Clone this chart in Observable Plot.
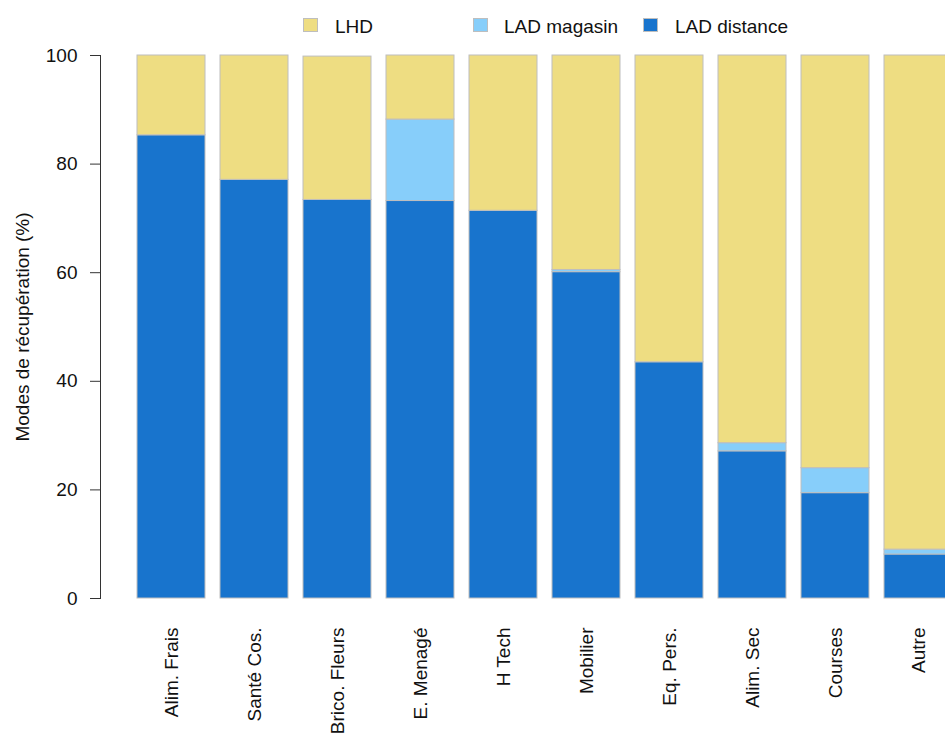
<!DOCTYPE html>
<html>
<head>
<meta charset="utf-8">
<script src="https://cdn.jsdelivr.net/npm/d3@7"></script>
<script src="https://cdn.jsdelivr.net/npm/@observablehq/plot@0.6"></script>
<style>
  html, body { margin: 0; padding: 0; background: white; overflow: hidden; }
  body { width: 945px; height: 736px; font-family: "Liberation Sans", Arial, sans-serif; }
  #legend { position: relative; width: 945px; height: 45px; }
  #legend .sw { position: absolute; top: 18px; width: 13px; height: 12px; border: 1px solid #bebebe; }
  #legend .lb { position: absolute; top: 17px; font-size: 19px; line-height: 19px; color: #111; white-space: nowrap; }
</style>
</head>
<body>
<div id="legend"></div>
<div id="chart"></div>
<script>
const categories = ["Alim. Frais", "Santé Cos.", "Brico. Fleurs", "E. Menagé", "H Tech", "Mobilier", "Eq. Pers.", "Alim. Sec", "Courses", "Autre"];
const series = ["LAD distance", "LAD magasin", "LHD"];
const ladDistance = [85.3, 77.1, 73.4, 73.2, 71.4, 60.1, 43.5, 27.1, 19.4, 8.1];
const ladMagasin  = [0, 0, 0, 15.0, 0, 0.4, 0, 1.5, 4.6, 0.9];
const lhd         = [14.7, 22.9, 26.4, 11.8, 28.6, 39.5, 56.5, 71.4, 76.0, 91.0];
const yTicks = [0, 20, 40, 60, 80, 100];
const colors = {"LHD": "#EEDD82", "LAD magasin": "#87CEFA", "LAD distance": "#1874CD"};

const valuesBySeries = {"LAD distance": ladDistance, "LAD magasin": ladMagasin, "LHD": lhd};
const data = [];
for (const s of series) {
  categories.forEach((c, i) => data.push({cat: c, type: s, value: valuesBySeries[s][i]}));
}

// legend
const legend = document.getElementById("legend");
const legendItems = [
  {name: "LHD", sw: 303, tx: 335},
  {name: "LAD magasin", sw: 473, tx: 504},
  {name: "LAD distance", sw: 643, tx: 675}
];
for (const it of legendItems) {
  const sw = document.createElement("div");
  sw.className = "sw"; sw.style.left = it.sw + "px"; sw.style.background = colors[it.name];
  legend.appendChild(sw);
  const lb = document.createElement("div");
  lb.className = "lb"; lb.style.left = it.tx + "px"; lb.textContent = it.name;
  legend.appendChild(lb);
}

const chart = Plot.plot({
  width: 945,
  height: 691,
  marginTop: 10,
  marginBottom: 138,
  marginLeft: 100,
  marginRight: 0,
  style: {fontFamily: "Liberation Sans, Arial, sans-serif", fontSize: "19px", color: "#111", background: "white"},
  x: {type: "band", domain: categories, range: [136, 952.4], paddingInner: 0.176, paddingOuter: 0},
  y: {domain: [0, 100]},
  color: {domain: series, range: series.map(s => colors[s])},
  marks: [
    Plot.barY(data, Plot.stackY({order: series}, {x: "cat", y: "value", fill: "type", stroke: "#bebebe", strokeWidth: 1})),
    Plot.frame({anchor: "left", stroke: "#333", strokeOpacity: 1}),
    Plot.axisY({ticks: yTicks, tickSize: 10, tickPadding: 13, label: null, stroke: "#333"}),
    Plot.axisX({tickRotate: -90, tickSize: 0, tickPadding: 29, label: null}),
    Plot.text(["Modes de récupération (%)"], {frameAnchor: "left", dx: -78, rotate: -90, textAnchor: "middle", fontSize: 19, fill: "#111"})
  ]
});
document.getElementById("chart").appendChild(chart);
</script>
</body>
</html>
